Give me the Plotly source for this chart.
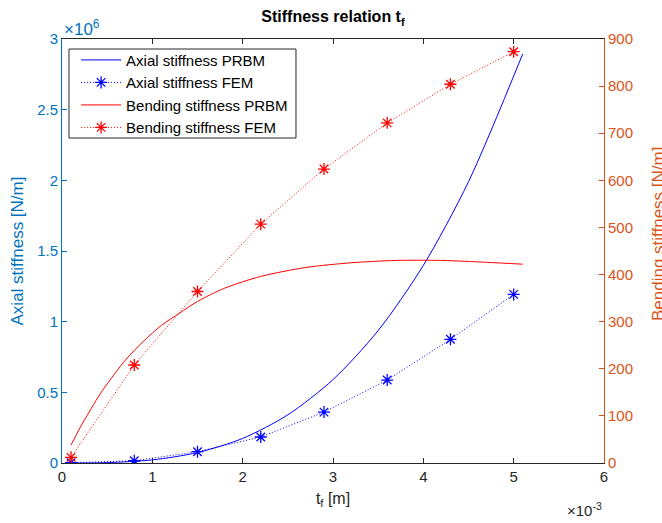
import plotly.graph_objects as go

# FEM sample thicknesses (m)
t_fem = [0.1e-3, 0.8e-3, 1.5e-3, 2.2e-3, 2.9e-3, 3.6e-3, 4.3e-3, 5.0e-3]
axial_fem = [0.002e6, 0.016e6, 0.080e6, 0.184e6, 0.360e6, 0.587e6, 0.875e6, 1.193e6]
bending_fem = [12, 208, 364, 507, 624, 722, 804, 873]

# PRBM curves
t_axial_prbm = [0.1e-3, 0.5e-3, 1.0e-3, 1.5e-3, 2.0e-3, 2.5e-3, 3.0e-3, 3.5e-3, 4.0e-3, 4.5e-3, 5.1e-3]
axial_prbm = [0.00002e6, 0.0027e6, 0.022e6, 0.074e6, 0.174e6, 0.341e6, 0.590e6, 0.937e6, 1.398e6, 1.99e6, 2.894e6]

t_bend_prbm = [0.1e-3, 0.2e-3, 0.3e-3, 0.4e-3, 0.5e-3, 0.7e-3, 0.9e-3, 1.1e-3, 1.3e-3, 1.5e-3,
               1.8e-3, 2.2e-3, 2.7e-3, 3.2e-3, 3.7e-3, 4.2e-3, 4.7e-3, 5.1e-3]
bending_prbm = [38, 75, 108, 140, 168, 218, 258, 292, 318, 343,
                371, 396, 415, 425, 430, 430, 426, 422]

x_ticks = [0, 1e-3, 2e-3, 3e-3, 4e-3, 5e-3, 6e-3]
x_ticktext = ["0", "1", "2", "3", "4", "5", "6"]
yl_ticks = [0, 0.5e6, 1e6, 1.5e6, 2e6, 2.5e6, 3e6]
yl_ticktext = ["0", "0.5", "1", "1.5", "2", "2.5", "3"]
yr_ticks = [0, 100, 200, 300, 400, 500, 600, 700, 800, 900]

BLUE_AX = "#0072BD"
ORANGE_AX = "#D95319"
GRAY = "#262626"
FONT = "Liberation Sans, Arial, sans-serif"
DOT = "1px,2px"

fig = go.Figure()
fig.add_trace(go.Scatter(x=t_axial_prbm, y=axial_prbm, mode="lines", name="Axial stiffness PRBM",
                         line=dict(color="#0000FF", width=1, shape="spline", smoothing=0.8), yaxis="y"))
fig.add_trace(go.Scatter(x=t_fem, y=axial_fem, mode="lines+markers", name="Axial stiffness FEM",
                         line=dict(color="#0000FF", width=1, dash=DOT),
                         marker=dict(symbol="asterisk-open", size=10, color="#0000FF",
                                     line=dict(color="#0000FF", width=1.3)), yaxis="y"))
fig.add_trace(go.Scatter(x=t_bend_prbm, y=bending_prbm, mode="lines", name="Bending stiffness PRBM",
                         line=dict(color="#FF0000", width=1, shape="spline", smoothing=0.8), yaxis="y2"))
fig.add_trace(go.Scatter(x=t_fem, y=bending_fem, mode="lines+markers", name="Bending stiffness FEM",
                         line=dict(color="#FF0000", width=1, dash=DOT),
                         marker=dict(symbol="asterisk-open", size=10, color="#FF0000",
                                     line=dict(color="#FF0000", width=1.3)), yaxis="y2"))

fig.update_layout(
    width=662, height=523,
    margin=dict(l=62, r=58, t=39, b=60),
    paper_bgcolor="white", plot_bgcolor="white",
    font=dict(family=FONT, size=15, color=GRAY),
    showlegend=True,
    legend=dict(x=0.026, y=0.989, xanchor="left", yanchor="top",
                bgcolor="rgba(0,0,0,0)", borderwidth=0,
                font=dict(size=15, color="black"), tracegroupgap=0,
                itemwidth=40),
    shapes=[
        dict(type="rect", xref="paper", yref="paper", x0=0.0129, x1=0.4317, y0=0.7665, y1=0.9764,
             fillcolor="white", line=dict(color=GRAY, width=1), layer="above"),
    ],
    xaxis=dict(range=[0, 6e-3], tickvals=x_ticks, ticktext=x_ticktext,
               showline=True, linecolor=GRAY, linewidth=1, mirror="ticks",
               ticks="inside", ticklen=5, tickcolor=GRAY, showgrid=False, zeroline=False,
               tickfont=dict(size=15, color=GRAY),
               title=dict(text="t<sub>f</sub> [m]", font=dict(size=16, color=GRAY), standoff=8)),
    yaxis=dict(range=[0, 3e6], tickvals=yl_ticks, ticktext=yl_ticktext,
               showline=True, linecolor=BLUE_AX, linewidth=1,
               ticks="inside", ticklen=5, tickcolor=BLUE_AX, showgrid=False, zeroline=False,
               tickfont=dict(size=15, color=BLUE_AX),
               title=dict(text="Axial stiffness [N/m]", font=dict(size=17, color=BLUE_AX), standoff=9)),
    yaxis2=dict(range=[0, 900], tickvals=yr_ticks, overlaying="y", side="right",
                showline=True, linecolor=ORANGE_AX, linewidth=1,
                ticks="inside", ticklen=5, tickcolor=ORANGE_AX, showgrid=False, zeroline=False,
                tickfont=dict(size=15, color=ORANGE_AX)),
    title=dict(text="<b>Stiffness relation t<sub>f</sub></b>", x=0.5, xref="paper", xanchor="center",
               y=0.968, yanchor="middle", font=dict(size=16, color="black")),
    annotations=[
        dict(text="×10<sup>6</sup>", xref="paper", yref="paper", x=0.0, y=1.0, xanchor="left",
             yanchor="bottom", showarrow=False, font=dict(size=17, color=BLUE_AX), yshift=-2),
        dict(text="×10<sup>-3</sup>", xref="paper", yref="paper", x=1.0, y=0, xanchor="right",
             yanchor="top", showarrow=False, font=dict(size=15, color=GRAY), yshift=-35),
        dict(text="Bending stiffness [N/m]", xref="paper", yref="paper", x=1.0, y=0.54,
             xanchor="center", yanchor="middle", textangle=-90, showarrow=False,
             font=dict(size=17, color=ORANGE_AX), xshift=54),
    ],
)

fig.write_html("out.html")
